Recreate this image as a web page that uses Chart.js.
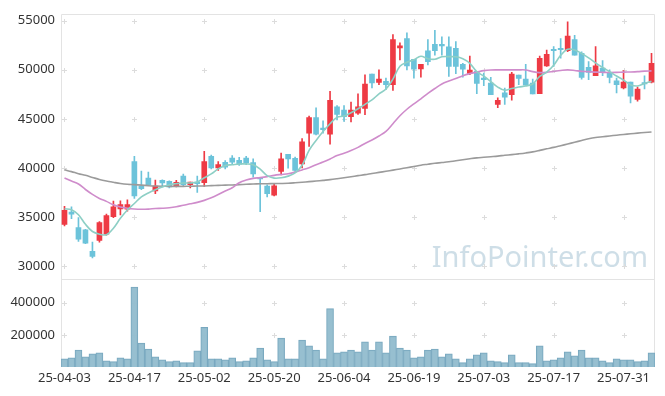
<!DOCTYPE html>
<html><head><meta charset="utf-8">
<script src="https://cdn.jsdelivr.net/npm/chart.js@4/dist/chart.umd.min.js"></script>
<style>html,body{margin:0;padding:0;background:#fff;}#wrap{width:665px;height:396px;position:relative;}</style>
</head><body><div id="wrap"><canvas id="c" width="665" height="396"></canvas></div>
<script>
const dates = ["25-04-03","25-04-04","25-04-07","25-04-08","25-04-09","25-04-10","25-04-11","25-04-14","25-04-15","25-04-16",
"25-04-17","25-04-18","25-04-21","25-04-22","25-04-23","25-04-24","25-04-25","25-04-28","25-04-29","25-04-30",
"25-05-02","25-05-07","25-05-08","25-05-09","25-05-12","25-05-13","25-05-14","25-05-15","25-05-16","25-05-19",
"25-05-20","25-05-21","25-05-22","25-05-23","25-05-26","25-05-27","25-05-28","25-05-29","25-05-30","25-06-02",
"25-06-04","25-06-05","25-06-09","25-06-10","25-06-11","25-06-12","25-06-13","25-06-16","25-06-17","25-06-18",
"25-06-19","25-06-20","25-06-23","25-06-24","25-06-25","25-06-26","25-06-27","25-06-30","25-07-01","25-07-02",
"25-07-03","25-07-04","25-07-07","25-07-08","25-07-09","25-07-10","25-07-11","25-07-14","25-07-15","25-07-16",
"25-07-17","25-07-18","25-07-21","25-07-22","25-07-23","25-07-24","25-07-25","25-07-28","25-07-29","25-07-30",
"25-07-31","25-08-01","25-08-04","25-08-05","25-08-06"];

const openP = [34250,35500,33930,33700,31500,32620,33250,35040,35840,35800,
40650,38130,38970,37660,38740,38640,38200,39170,38300,38450,
38500,41190,40010,40580,41020,40790,41020,40550,38920,38160,
37230,39650,41390,40990,40420,43540,45120,44010,43440,46230,
45900,45220,45590,46060,49550,48720,48820,48480,52220,53180,
51060,50090,51940,52580,52500,52340,52190,50560,49620,49830,
49150,48650,46460,47640,47470,49450,49050,48650,47570,50400,
52040,52180,51940,53080,51670,50260,49390,50160,49720,48880,
48140,48750,46970,48650,48750];
const highP = [36100,36050,34940,33750,32450,34540,35300,36620,36650,36750,
41190,39680,39580,38770,38800,38700,38740,39370,38570,39170,
41700,41320,40650,40750,41260,41090,41190,40920,38950,38290,
38400,41520,41390,41100,43000,45290,46130,44790,47810,46360,
46360,46700,47540,49480,49550,49990,49150,53580,52750,53750,
51060,50560,53080,54020,53350,53350,52880,50660,51400,49830,
49660,49220,47140,48140,49730,49450,50560,49050,51400,52010,
52350,53180,54870,53520,51840,50830,52350,50930,49990,49150,
49920,48750,48250,49390,51670];
const lowP = [34100,34850,32520,32300,30850,32450,33150,34940,35210,35600,
36900,37790,38230,37390,38060,37960,38060,38160,37960,37500,
38130,39910,39750,39910,40330,40250,40330,39070,35550,37060,
37160,39300,39980,39650,40010,42200,43370,43540,42430,44890,
44730,44690,45450,45420,48140,48480,47980,47910,51000,49990,
49150,49250,50500,51500,51500,49320,49600,49250,49490,47570,
48380,47470,46130,46460,46900,48480,48420,47540,47570,50330,
50330,51170,51840,51500,49050,48990,49390,49390,48650,47640,
48040,46630,46800,48040,48650];
const closeP = [35700,35300,32750,32350,31000,34440,35140,36050,36280,36280,
37150,37890,38300,38160,38470,38060,38540,38300,38570,38400,
40650,40010,40350,40080,40580,40380,40510,39400,38880,37390,
38190,40920,40920,39750,42670,45120,43440,43910,46900,45450,
45220,45900,46230,48550,48650,49050,48480,53080,52440,50400,
50060,50560,50830,51940,52430,50330,50330,50060,49960,48600,
48980,47470,46900,47200,49550,49120,48420,47540,51170,51570,
51940,52040,53420,51500,49220,49720,50400,49720,49220,48480,
48750,47310,48040,48550,50660];

const ma5 = [35850,35750,35240,34260,33530,33260,33200,33860,34870,35720,
36380,37060,37460,37790,38060,38300,38400,38470,38470,38570,
39000,39400,39910,40250,40330,40410,40410,40330,39880,39220,
38970,39000,39170,39500,40280,41790,42800,43710,44510,45150,
45290,45620,46030,46480,46930,47540,48040,49050,50360,50770,
51020,51370,51120,51070,51320,51340,51320,51120,50660,49810,
49350,48800,48240,47910,48090,48240,48350,48550,49320,49760,
50460,51470,52080,52020,51670,51220,50700,50240,49810,49370,
48950,48480,48350,48600,48820];
const ma20 = [38970,38670,38370,37810,37310,36900,36600,36250,36030,35900,
35820,35790,35810,35870,35900,35950,36050,36210,36350,36500,
36700,36960,37290,37660,37990,38500,38770,38940,39020,39120,
39250,39340,39420,39580,39800,40030,40330,40600,40920,41260,
41490,41770,42100,42500,42850,43260,43730,44510,45320,45980,
46530,47040,47590,48090,48550,48850,49100,49400,49610,49760,
49910,49980,49990,49990,49990,49990,49980,49810,49710,49740,
49840,49930,49990,49930,49840,49810,49760,49740,49730,49740,
49760,49780,49810,49860,49890];
const ma120 = [39810,39630,39420,39250,39040,38830,38670,38540,38420,38340,
38300,38250,38200,38160,38140,38130,38130,38130,38140,38160,
38170,38200,38230,38250,38270,38300,38340,38370,38390,38400,
38410,38420,38440,38490,38550,38610,38670,38740,38810,38900,
39000,39110,39220,39320,39440,39550,39660,39780,39900,40030,
40150,40280,40380,40480,40550,40630,40740,40840,40940,41030,
41090,41150,41210,41290,41360,41440,41530,41640,41790,41950,
42100,42270,42440,42620,42800,42970,43100,43180,43260,43340,
43410,43480,43550,43610,43670];

const volume = [51000,57500,106000,63500,82000,88000,39000,33000,57500,51000,
498000,149000,112000,63500,45000,33000,39000,27000,27000,100000,
247000,51000,51000,45000,57500,33000,39000,57500,118000,45000,
33000,180000,51000,51000,168000,131000,106000,51000,363000,88000,
94000,106000,94000,157000,106000,157000,88000,192000,118000,106000,
57500,63500,106000,112000,63500,82000,51000,27000,51000,76000,
88000,39000,33000,27000,76000,27000,27000,21000,131000,39000,
45000,57500,94000,70000,106000,57500,57500,39000,27000,51000,
45000,45000,33000,39000,88000];

const priceTicks = [30000,35000,40000,45000,50000,55000];
const volumeTicks = [200000,400000];
const labelEvery = 10;
const watermark = "InfoPointer.com";

const UP = '#ee3a44', DOWN = '#6cc3da';
const candleColors = closeP.map((c, i) => c >= openP[i] ? UP : DOWN);
const tickFont = {family: '"Noto Sans", sans-serif', size: 13};

const framePlugin = {
  id: 'frame',
  beforeDatasetsDraw(chart) {
    const {ctx, chartArea: a, scales} = chart;
    const x = scales.x, y = scales.y, yv = scales.yv;
    ctx.save();
    ctx.font = '29px "Noto Sans", sans-serif';
    ctx.fillStyle = 'rgba(165,195,212,0.55)';
    ctx.textAlign = 'right';
    ctx.textBaseline = 'alphabetic';
    ctx.fillText(watermark, a.right - 7, 267);
    ctx.strokeStyle = '#dcdcdc';
    ctx.lineWidth = 1;
    const xs = [];
    dates.forEach((d, i) => { if (i % labelEvery === 0) xs.push(Math.round(x.getPixelForValue(i)) + 0.5); });
    const ys = priceTicks.map(v => Math.round(y.getPixelForValue(v)) + 0.5)
      .concat(volumeTicks.map(v => Math.round(yv.getPixelForValue(v)) + 0.5));
    ctx.beginPath();
    xs.forEach(px => ys.forEach(py => {
      ctx.moveTo(px - 2.5, py); ctx.lineTo(px + 2.5, py);
      ctx.moveTo(px, py - 2.5); ctx.lineTo(px, py + 2.5);
    }));
    ctx.stroke();
    ctx.strokeStyle = '#e3e3e3';
    ctx.beginPath();
    const l = Math.round(a.left) + 0.5, r = Math.round(a.right) - 0.5;
    const t = Math.round(a.top) + 0.5, sep = Math.round(y.bottom) + 0.5, b = Math.round(a.bottom);
    ctx.moveTo(l, t); ctx.lineTo(r, t);
    ctx.moveTo(l, sep); ctx.lineTo(r, sep);
    ctx.moveTo(l, t); ctx.lineTo(l, b);
    ctx.moveTo(r, t); ctx.lineTo(r, b);
    ctx.stroke();
    ctx.restore();
  }
};

new Chart(document.getElementById('c'), {
  type: 'bar',
  data: {
    labels: dates,
    datasets: [
      {type: 'line', label: 'MA5', data: ma5, yAxisID: 'y', borderColor: '#8dcfc5', borderWidth: 1.6, pointRadius: 0, tension: 0.35, order: 0},
      {type: 'line', label: 'MA20', data: ma20, yAxisID: 'y', borderColor: '#cf8ccb', borderWidth: 1.6, pointRadius: 0, tension: 0.35, order: 0},
      {type: 'line', label: 'MA120', data: ma120, yAxisID: 'y', borderColor: '#9b9b9b', borderWidth: 1.6, pointRadius: 0, tension: 0.35, order: 0},
      {label: 'wick', data: lowP.map((v, i) => [v, highP[i]]), yAxisID: 'y', backgroundColor: candleColors, barThickness: 1, grouped: false, order: 2},
      {label: 'body', data: openP.map((v, i) => [v, closeP[i]]), yAxisID: 'y', backgroundColor: candleColors, barThickness: 5, minBarLength: 1.5, grouped: false, order: 1},
      {label: 'volume', data: volume, yAxisID: 'yv', backgroundColor: 'rgba(145,188,206,0.95)', borderColor: '#78a8bf', borderWidth: 1, borderSkipped: 'bottom', barPercentage: 1, categoryPercentage: 1, grouped: false, order: 3}
    ]
  },
  options: {
    responsive: false,
    animation: false,
    devicePixelRatio: 1,
    layout: {padding: {top: 10, right: 10, left: 0, bottom: 0}},
    plugins: {legend: {display: false}, tooltip: {enabled: false}},
    scales: {
      x: {
        grid: {display: false, drawTicks: false}, border: {display: false},
        ticks: {autoSkip: false, maxRotation: 0, minRotation: 0, padding: 3, color: '#333', font: tickFont,
          callback: (v, i) => (i % labelEvery === 0 ? dates[i] : '')},
        afterFit(s) { s.height = 29; }
      },
      yv: {
        stack: 'p', stackWeight: 89, position: 'left', min: 0, max: 548000,
        grid: {display: false, drawTicks: false}, border: {display: false},
        ticks: {padding: 6, color: '#333', font: tickFont, callback: v => String(v)},
        afterBuildTicks(s) { s.ticks = volumeTicks.map(v => ({value: v})); },
        afterFit(s) { s.width = 61; }
      },
      y: {
        stack: 'p', stackWeight: 268, position: 'left', min: 28700, max: 55700,
        grid: {display: false, drawTicks: false}, border: {display: false},
        ticks: {padding: 6, color: '#333', font: tickFont, callback: v => String(v)},
        afterBuildTicks(s) { s.ticks = priceTicks.map(v => ({value: v})); },
        afterFit(s) { s.width = 61; }
      }
    }
  },
  plugins: [framePlugin]
});
</script></body></html>
